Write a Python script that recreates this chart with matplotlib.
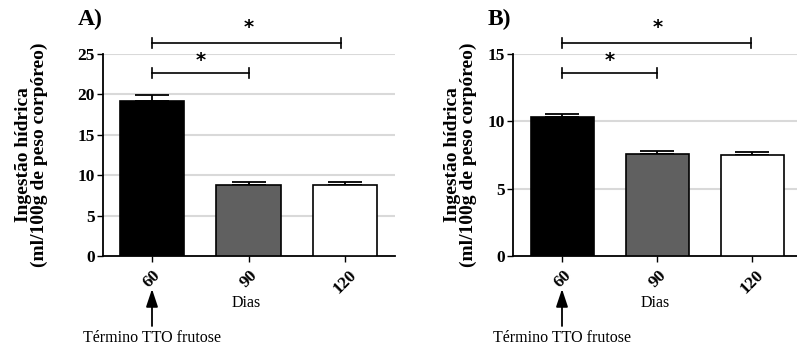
import numpy as np
import matplotlib
matplotlib.use('Agg')
import matplotlib.pyplot as plt

plt.rcParams['font.family'] = ['Liberation Serif', 'DejaVu Serif']

# Data
dias = ['60', '90', '120']
ingestao_a = [19.2, 8.8, 8.8]
sem_a = [0.7, 0.35, 0.4]
ingestao_b = [10.3, 7.55, 7.5]
sem_b = [0.25, 0.25, 0.22]
bar_colors = ['#000000', '#606060', '#ffffff']
yticks_a = [0, 5, 10, 15, 20, 25]
yticks_b = [0, 5, 10, 15]

W, H = 797, 349
fig = plt.figure(figsize=(W / 100, H / 100), dpi=100)


def px_axes(left, right, top, bottom):
    return fig.add_axes([left / W, 1 - bottom / H, (right - left) / W, (bottom - top) / H])


def draw_panel(ax, vals, errs, yticks, ymax, xlim, brackets, stars, letter, letter_xy):
    x = np.arange(len(vals))
    ax.set_axisbelow(True)
    for t in yticks[1:]:
        ax.axhline(t, color='#d9d9d9', linewidth=1.5, zorder=0)
    ax.bar(x, vals, width=0.67, color=bar_colors, edgecolor='black', linewidth=1.2, zorder=3)
    ax.errorbar(x, vals, yerr=[np.zeros(len(vals)), errs], fmt='none', ecolor='black',
                elinewidth=1.3, capsize=12, capthick=1.3, zorder=2)
    ax.set_xlim(*xlim)
    ax.set_ylim(0, ymax)
    ax.set_yticks(yticks)
    ax.set_yticklabels([str(t) for t in yticks], fontsize=12.5, fontweight='bold')
    ax.set_xticks(x)
    ax.set_xticklabels(dias, fontsize=12.5, fontweight='bold', rotation=45, ha='center')
    for s in ['top', 'right']:
        ax.spines[s].set_visible(False)
    for s in ['left', 'bottom']:
        ax.spines[s].set_linewidth(1.3)
    ax.tick_params(axis='both', length=4, width=1.0, pad=2)
    ax.tick_params(axis='x', pad=4)
    ax.set_xlabel('Dias', fontsize=11.5)
    ax.set_ylabel('Ingestão hídrica\n(ml/100g de peso corpóreo)', fontsize=14,
                  fontweight='bold', linespacing=0.9)

    # significance brackets
    for (x0, x1, yb, cap) in brackets:
        ax.plot([x0, x1], [yb, yb], color='black', linewidth=1.2, clip_on=False)
        for xe in (x0, x1):
            ax.plot([xe, xe], [yb - cap, yb + cap], color='black', linewidth=1.2, clip_on=False)
    for (xs, ys) in stars:
        ax.text(xs, ys, '*', fontsize=14, fontweight='bold', ha='center', va='center',
                family=['DejaVu Sans'])

    fig.text(letter_xy[0] / W, 1 - letter_xy[1] / H, letter, fontsize=17, fontweight='bold',
             ha='left', va='center')


def draw_arrow(x_px):
    fig.add_artist(matplotlib.patches.FancyArrowPatch(
        (x_px / W, 1 - 326 / H), (x_px / W, 1 - 289 / H), transform=fig.transFigure,
        arrowstyle='-|>,head_length=0.54,head_width=0.18', mutation_scale=20,
        color='black', linewidth=1.3, shrinkA=0, shrinkB=0))
    fig.text(x_px / W, 1 - 338 / H, 'Término TTO frutose', fontsize=11.5, ha='center', va='center')


# Panel A
ax_a = px_axes(103, 395, 54, 256)
draw_panel(ax_a, ingestao_a, sem_a, yticks_a, 25, (-0.51, 2.52),
           brackets=[(0, 1.96, 26.4, 0.62), (0, 1, 22.6, 0.62)],
           stars=[(1.0, 28.3), (0.5, 24.2)], letter='A)', letter_xy=(78, 19))
ax_a.yaxis.set_label_coords(-0.19, 0.5)
ax_a.xaxis.set_label_coords(0.49, -0.195)
draw_arrow(152)

# Panel B
ax_b = px_axes(513, 797, 54, 256)
draw_panel(ax_b, ingestao_b, sem_b, yticks_b, 15, (-0.52, 2.47),
           brackets=[(0, 1.99, 15.8, 0.37), (0, 1, 13.6, 0.37)],
           stars=[(1.0, 17.0), (0.5, 14.5)], letter='B)', letter_xy=(488, 19))
ax_b.yaxis.set_label_coords(-0.127, 0.5)
ax_b.xaxis.set_label_coords(0.5, -0.195)
draw_arrow(562)

fig.savefig('out.png', dpi=100)
